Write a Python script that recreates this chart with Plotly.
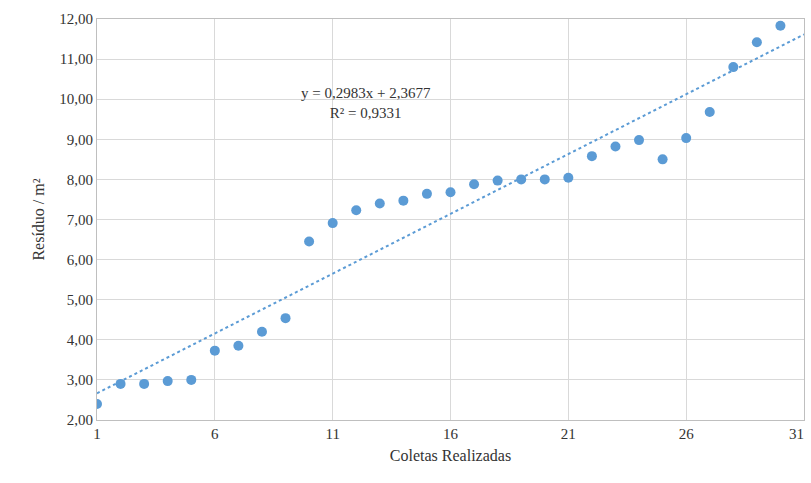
import plotly.graph_objects as go

# Collection number and residue per m² for each collection
coletas = list(range(1, 31))
residuo = [2.40, 2.90, 2.90, 2.97, 3.00, 3.73, 3.85, 4.20, 4.54, 6.45,
           6.91, 7.23, 7.40, 7.47, 7.64, 7.68, 7.88, 7.97, 8.00, 8.00,
           8.04, 8.58, 8.82, 8.98, 8.50, 9.03, 9.68, 10.80, 11.42, 11.83]

# Linear trend line (least squares fit shown in the annotation)
slope = 0.2983
intercept = 2.3677
r2 = 0.9331
trend_x = [1, 31]
trend_y = [slope * x + intercept for x in trend_x]

y_ticks = [2, 3, 4, 5, 6, 7, 8, 9, 10, 11, 12]
y_labels = [f"{v:.2f}".replace(".", ",") for v in y_ticks]
x_ticks = [1, 6, 11, 16, 21, 26, 31]

blue = "#5b9bd5"
grid = "#d9d9d9"
font = "Liberation Serif, Times New Roman, serif"
text_color = "#333333"

fig = go.Figure()
fig.add_trace(go.Scatter(
    x=trend_x, y=trend_y, mode="lines",
    line=dict(color=blue, width=2, dash="dot"),
    hoverinfo="skip", showlegend=False,
))
fig.add_trace(go.Scatter(
    x=coletas, y=residuo, mode="markers",
    marker=dict(color=blue, size=10),
    showlegend=False,
))

fig.add_annotation(
    x=12.4, y=9.9, xref="x", yref="y",
    text=f"y = {str(slope).replace('.', ',')}x + {str(intercept).replace('.', ',')}<br>R² = {str(r2).replace('.', ',')}",
    showarrow=False, align="center",
    font=dict(family=font, size=15, color=text_color),
)

# The last x tick label sits at the right page edge; draw it right-aligned
fig.add_annotation(
    x=x_ticks[-1], y=0, xref="x", yref="paper",
    text=str(x_ticks[-1]), showarrow=False,
    xanchor="right", yanchor="top", xshift=2, yshift=-4,
    font=dict(family=font, size=15, color=text_color),
)

fig.update_layout(
    width=811, height=483,
    margin=dict(l=97, r=7, t=19, b=63),
    paper_bgcolor="white", plot_bgcolor="white",
    font=dict(family=font, size=15, color=text_color),
    xaxis=dict(
        range=[1, 31], tickvals=x_ticks[:-1], ticktext=[str(v) for v in x_ticks[:-1]],
        showgrid=True, gridcolor=grid, gridwidth=1,
        showline=True, linecolor="#bfbfbf", mirror=True, zeroline=False,
        ticks="", title=dict(text="Coletas Realizadas", standoff=8,
                             font=dict(family=font, size=16)),
    ),
    yaxis=dict(
        range=[2, 12], tickvals=y_ticks, ticktext=y_labels,
        showgrid=True, gridcolor=grid, gridwidth=1,
        showline=True, linecolor="#bfbfbf", mirror=True, zeroline=False,
        ticks="", title=dict(text="Resíduo / m²", standoff=10,
                             font=dict(family=font, size=16)),
    ),
)

fig.write_html("out.html")
